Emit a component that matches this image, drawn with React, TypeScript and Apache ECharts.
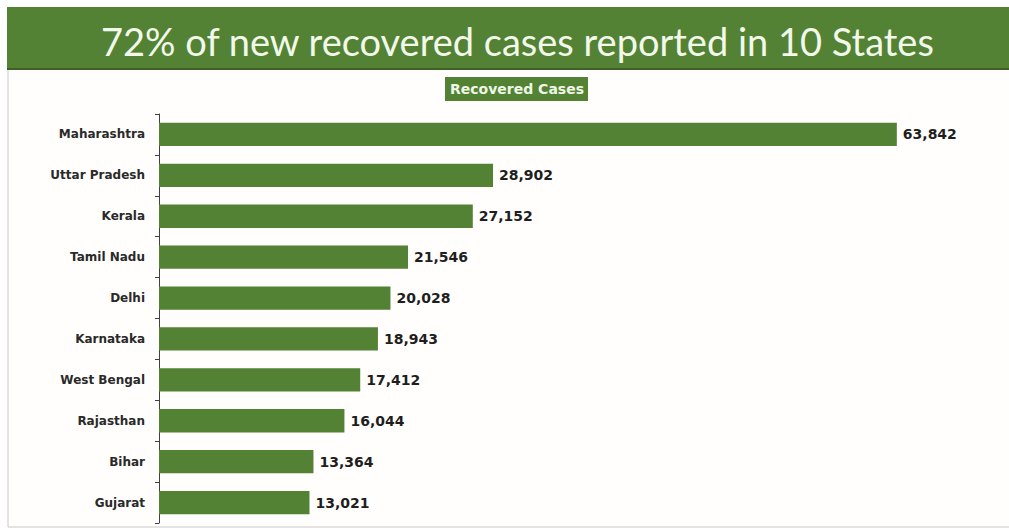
import React, { useEffect, useRef } from "react";
import * as echarts from "echarts";

const states = [
  "Maharashtra",
  "Uttar Pradesh",
  "Kerala",
  "Tamil Nadu",
  "Delhi",
  "Karnataka",
  "West Bengal",
  "Rajasthan",
  "Bihar",
  "Gujarat",
];
const recovered = [63842, 28902, 27152, 21546, 20028, 18943, 17412, 16044, 13364, 13021];
const titleText = "72% of new recovered cases reported in 10 States";
const seriesName = "Recovered Cases";

export default function App() {
  const ref = useRef<HTMLDivElement>(null);
  useEffect(() => {
    document.body.style.margin = "0";
    const chart = echarts.init(ref.current!, null, { renderer: "svg" });
    const green = "#538234";
    chart.setOption({
      animation: false,
      backgroundColor: "#ffffff",
      title: {
        text: titleText,
        left: 96,
        top: 17,
        textStyle: {
          color: "#f2f9ea",
          fontFamily: "Lato",
          fontWeight: "normal",
          fontSize: 38,
        },
      },
      graphic: [
        {
          type: "rect",
          z: -1,
          shape: { x: 8, y: 68, width: 1010, height: 459 },
          style: { fill: "#fffefc", stroke: "#c8c8c8", lineWidth: 1 },
        },
        {
          type: "rect",
          z: -1,
          shape: { x: 7, y: 7, width: 1005, height: 62 },
          style: { fill: "#548235" },
        },
        {
          type: "rect",
          z: -1,
          shape: { x: 7, y: 68, width: 1005, height: 2 },
          style: { fill: "#3d6126" },
        },
      ],
      legend: {
        data: [seriesName],
        top: 77,
        left: 445,
        icon: "none",
        itemWidth: 0,
        itemHeight: 0,
        backgroundColor: green,
        padding: [5, 4, 5, 0],
        textStyle: {
          color: "#eef7e6",
          fontFamily: "DejaVu Sans",
          fontWeight: "bold",
          fontSize: 14,
        },
      },
      grid: { left: 159, top: 114, right: 41, bottom: 8, containLabel: false },
      xAxis: {
        type: "value",
        min: 0,
        max: 70000,
        show: false,
      },
      yAxis: {
        type: "category",
        data: states,
        inverse: true,
        axisLine: { show: true, lineStyle: { color: "#404040", width: 1 } },
        axisTick: { show: true, length: 4, lineStyle: { color: "#404040" } },
        axisLabel: {
          margin: 14,
          color: "#2a2a2a",
          fontFamily: "DejaVu Sans",
          fontWeight: "bold",
          fontSize: 12,
        },
      },
      series: [
        {
          name: seriesName,
          type: "bar",
          data: recovered,
          barWidth: "57%",
          itemStyle: { color: green },
          label: {
            show: true,
            position: "right",
            distance: 6,
            color: "#1e1e1e",
            fontFamily: "DejaVu Sans",
            fontWeight: "bold",
            fontSize: 14,
            formatter: (p: any) => Number(p.value).toLocaleString("en-US"),
          },
        },
      ],
    });
    return () => chart.dispose();
  }, []);
  return <div ref={ref} style={{ width: 1009, height: 531 }} />;
}
